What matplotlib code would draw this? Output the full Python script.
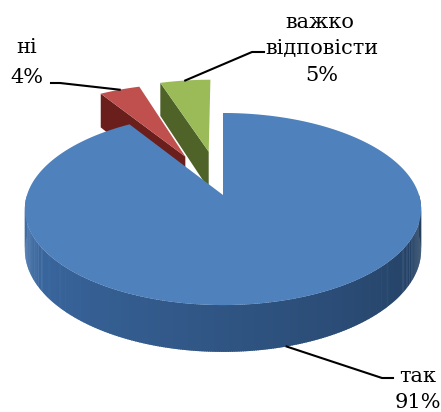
import numpy as np
import matplotlib
matplotlib.use('Agg')
import matplotlib.pyplot as plt
from matplotlib.patches import Polygon
from matplotlib.colors import to_rgb

# ---- data ----
categories = ['так', 'ні', 'важко відповісти']
values = [91, 4, 5]
pct_labels = ['91%', '4%', '5%']

# ---- style ----
explode = [0.0, 0.48, 0.5]
top_colors = ['#4f81bd', '#c0504d', '#9bbb59']
side_colors = ['#2f5482', '#6a1f1d', '#4f6228']
FONT = 'DejaVu Serif'
FS = 15

W, H = 441, 412
fig = plt.figure(figsize=(W / 100, H / 100), dpi=100)
ax = fig.add_axes([0, 0, 1, 1])
ax.set_xlim(0, W)
ax.set_ylim(H, 0)
ax.axis('off')

CX, CY = 223, 195      # screen position of the pie centre
RX, RY = 196, 94       # horizontal / vertical radius
K = 0.146              # perspective strength
DEPTH = 40             # thickness of the pie


def proj(u, v, h=0.0):
    u = np.asarray(u, float)
    v = np.asarray(v, float)
    s = 1.0 / (1.0 + K * v)
    return CX + RX * u * s, CY - RY * v * s + DEPTH * h * s


fr = np.array(values, float) / np.sum(values)
cum = np.cumsum(fr)
a_hi = 90 - 360 * (cum - fr)   # start angle (clockwise from 12 o'clock)
a_lo = 90 - 360 * cum


def shade(col, f):
    r, g, b = to_rgb(col)
    return (min(r * f, 1), min(g * f, 1), min(b * f, 1))


anchors = {}
# draw far (exploded) slices first, then the big one
order = sorted(range(len(values)), key=lambda i: -explode[i])
for i in order:
    t1, t2 = a_lo[i], a_hi[i]
    mid = np.radians((t1 + t2) / 2)
    ox, oy = explode[i] * np.cos(mid), explode[i] * np.sin(mid)
    # radial side faces
    for ang, nrm in ((t1, t1 - 90), (t2, t2 + 90)):
        if np.sin(np.radians(nrm)) < -0.01:
            ca, sa = np.cos(np.radians(ang)), np.sin(np.radians(ang))
            us = [ox, ox + ca, ox + ca, ox]
            vs = [oy, oy + sa, oy + sa, oy]
            hs = [0, 0, 1, 1]
            xs, ys = proj(us, vs, np.array(hs, float))
            ax.add_patch(Polygon(np.column_stack([xs, ys]), closed=True,
                                 facecolor=side_colors[i], edgecolor='none'))
    # outer wall (front part only), drawn in thin strips with shading
    th = np.linspace(t1, t2, 600)
    front = np.sin(np.radians(th)) < 0
    if front.any():
        thf = th[front]
        for k in range(len(thf) - 1):
            a, b = np.radians(thf[k]), np.radians(thf[k + 1] + 0.3)
            us = [ox + np.cos(a), ox + np.cos(b), ox + np.cos(b), ox + np.cos(a)]
            vs = [oy + np.sin(a), oy + np.sin(b), oy + np.sin(b), oy + np.sin(a)]
            xs, ys = proj(us, vs, np.array([0, 0, 1, 1], float))
            tt = (np.degrees(a) % 360 - 180) / 180.0
            f = 1.32 - 0.62 * tt
            ax.add_patch(Polygon(np.column_stack([xs, ys]), closed=True,
                                 facecolor=shade(side_colors[i], f),
                                 edgecolor='none'))
    # top face
    tha = np.radians(np.linspace(t1, t2, 400))
    us = np.concatenate([[ox], ox + np.cos(tha)])
    vs = np.concatenate([[oy], oy + np.sin(tha)])
    xs, ys = proj(us, vs)
    ax.add_patch(Polygon(np.column_stack([xs, ys]), closed=True,
                         facecolor=top_colors[i], edgecolor='none'))
    # anchor for the leader line
    h = 1.0 if explode[i] == 0 else 0.0
    p = proj(ox + np.cos(mid), oy + np.sin(mid), h)
    anchors[i] = (float(p[0]), float(p[1]))

# ---- leader lines and labels ----
lw = 1.5
tk = dict(fontfamily=FONT, fontsize=FS, ha='center', va='center')
# так
x0, y0 = anchors[0]
ax.plot([x0, 382, 393], [y0, 378, 378], color='black', lw=lw)
ax.text(418, 376, categories[0], **tk)
ax.text(418, 402, pct_labels[0], **tk)
# ні
x0, y0 = anchors[1]
ax.plot([x0, 60, 51], [y0, 83, 83], color='black', lw=lw)
ax.text(27, 47, categories[1], **tk)
ax.text(27, 77, pct_labels[1], **tk)
# важко відповісти
x0, y0 = anchors[2]
ax.plot([x0, 252, 264], [y0, 52, 52], color='black', lw=lw)
w1, w2 = categories[2].split(' ')
ax.text(320, 22, w1, **tk)
ax.text(322, 48, w2, **tk)
ax.text(322, 75, pct_labels[2], **tk)

fig.savefig('out.png', dpi=100)
